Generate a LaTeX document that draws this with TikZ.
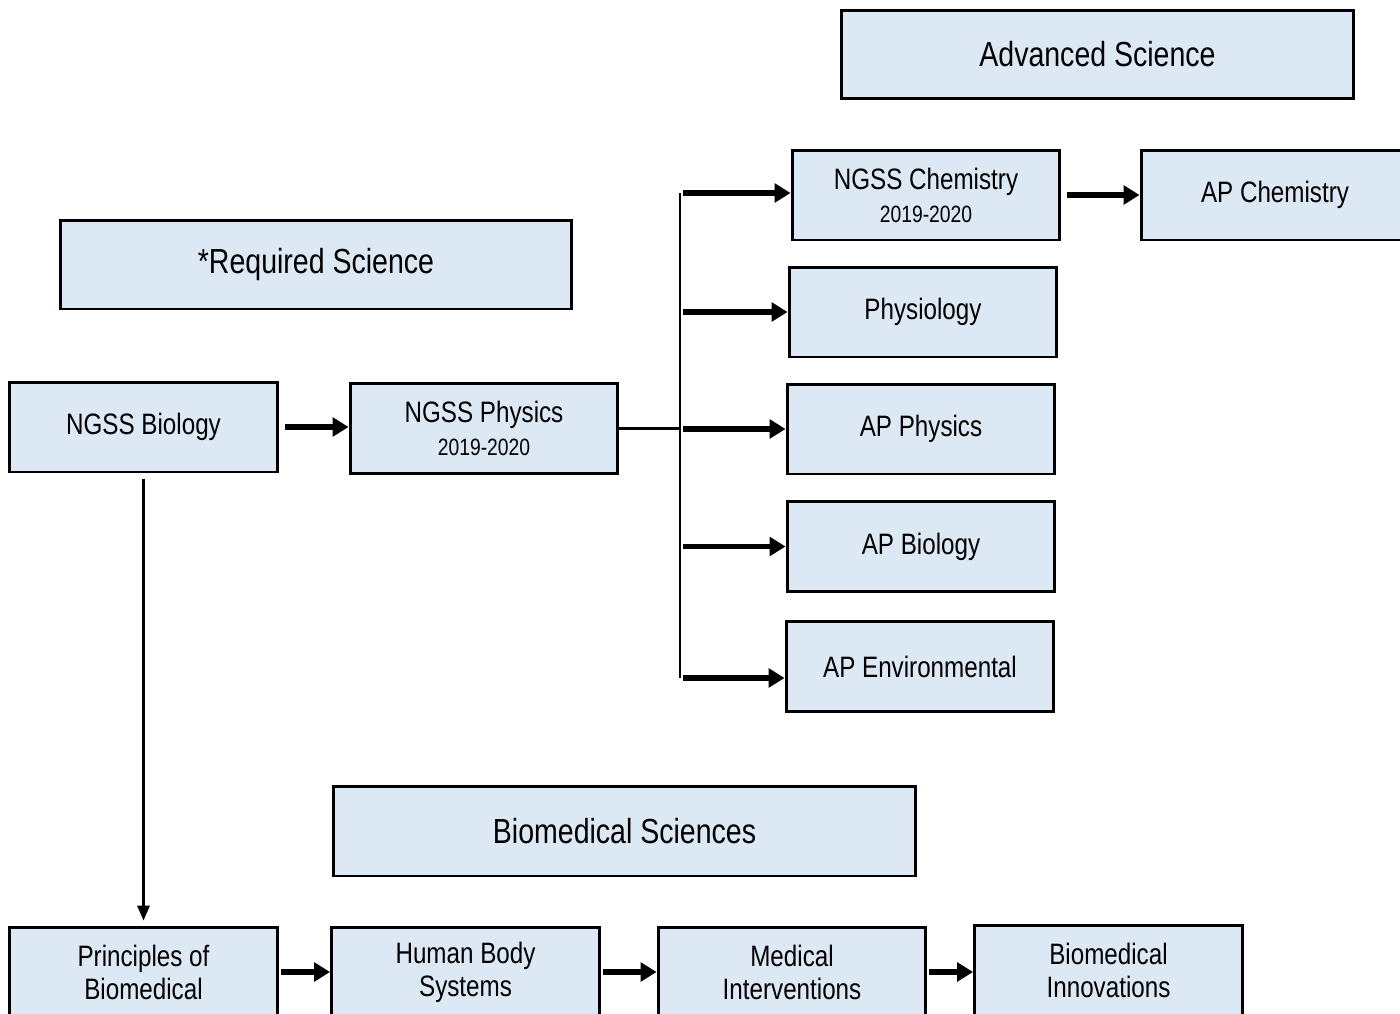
\documentclass[tikz,border=0pt]{standalone}
\usepackage{fontspec}
\setmainfont{Liberation Sans}[FakeStretch=0.82]
\usetikzlibrary{arrows.meta}
\definecolor{boxBlue}{RGB}{221,232,245}
\newcommand{\subLine}[1]{{\fontsize{13.4}{17}\selectfont #1}}
\tikzset{
	course/.style={rectangle, draw=black, fill=boxBlue, line width=1.7pt, minimum width=5.36cm, minimum height=1.8cm, inner sep=0pt, align=center, font=\fontsize{16.8}{18.8}\selectfont},
	header/.style={course, font=\fontsize{19.8}{22}\selectfont},
	fatArrow/.style={line width=3.1pt, -{Triangle[length=9pt,width=10.5pt]}},
	thinArrow/.style={line width=1.3pt, -{Triangle[length=8.5pt,width=7pt]}},
	trunkLine/.style={line width=1.6pt},
}
\begin{document}
\begin{tikzpicture}[x={(0.02cm,0)}, y={(0,-0.02cm)}]
\useasboundingbox (0,0) rectangle (1400,1014);
\clip (0,0) rectangle (1400,1014);

	% section headers
	\node[header, minimum width=10.26cm, minimum height=1.78cm](advHead) at (1097.5,54.5){Advanced Science};
	\node[header, minimum width=10.24cm, minimum height=1.78cm](reqHead) at (316,264.5){*Required Science};
	\node[header, minimum width=11.66cm](bioMedHead) at (624.5,831){Biomedical Sciences};

	% required courses
	\node[course](ngssBio) at (143.5,427){NGSS Biology};
	\node[course](ngssPhys) at (484,428.5){NGSS Physics\\\subLine{2019-2020}};

	% advanced courses
	\node[course](ngssChem) at (926,195){NGSS Chemistry\\\subLine{2019-2020}};
	\node[course](apChem) at (1275,195){AP Chemistry};
	\node[course](physio) at (923,312){Physiology};
	\node[course](apPhys) at (921,429){AP Physics};
	\node[course](apBio) at (921,546.5){AP Biology};
	\node[course](apEnv) at (920,666.5){AP Environmental};

	% biomedical pathway
	\node[course](principles) at (143.5,972){Principles of\\Biomedical};
	\node[course](humanBody) at (465.5,972){Human Body\\Systems};
	\node[course](medInt) at (792,972){Medical\\Interventions};
	\node[course](bioInno) at (1108.5,970){Biomedical\\Innovations};

	% branch trunk
	\coordinate(trunkTop) at (680,193);
	\coordinate(trunkBot) at (680,678);
	\draw[trunkLine] (trunkTop) -- (trunkBot);
	\draw[line width=1.3pt] (ngssPhys.east) -- (ngssPhys.east -| trunkTop);

	\draw[fatArrow, shorten <=0.12cm] (ngssBio.east) -- (ngssBio.east -| ngssPhys.west);
	\draw[fatArrow, shorten <=0.06cm] (trunkTop) -- (trunkTop -| ngssChem.west);
	\draw[fatArrow, shorten <=0.06cm] (physio.west -| trunkTop) -- (physio.west);
	\draw[fatArrow, shorten <=0.06cm] (apPhys.west -| trunkTop) -- (apPhys.west);
	\draw[fatArrow, shorten <=0.06cm] (apBio.west -| trunkTop) -- (apBio.west);
	\draw[fatArrow, shorten <=0.06cm] (trunkBot) -- (trunkBot -| apEnv.west);
	\draw[fatArrow, shorten <=0.12cm] (ngssChem.east) -- (apChem.west);

	\draw[thinArrow, shorten <=0.12cm, shorten >=0.1cm] (ngssBio.south) -- (principles.north);
	\draw[fatArrow, shorten <=0.04cm] (principles.east) -- (humanBody.west);
	\draw[fatArrow, shorten <=0.04cm] (humanBody.east) -- (medInt.west);
	\draw[fatArrow, shorten <=0.04cm] (medInt.east) -- (medInt.east -| bioInno.west);
\end{tikzpicture}
\end{document}
